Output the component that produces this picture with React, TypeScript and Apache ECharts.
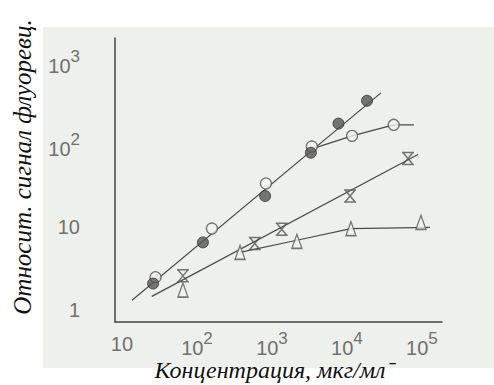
import React, { useEffect, useRef } from "react";
import * as echarts from "echarts";

// Data (log-log)
const filledX = [26, 120, 810, 3300, 7700, 18500];
const filledY = [2.1, 6.6, 24, 80, 180, 340];
const openX = [28, 158, 830, 3400, 11700, 42000];
const openY = [2.5, 9.7, 34, 95, 128, 174];
const crossX = [65, 590, 1350, 11000, 65000];
const crossY = [2.6, 6.4, 9.5, 24, 68];
const triX = [65, 375, 2150, 11300, 97000];
const triY = [1.75, 5.0, 6.8, 9.7, 11.5];

// Fitted lines
const filledLineX = [13.6, 28400];
const filledLineY = [1.32, 423];
const openLineX = [3400, 11700, 42000, 78000];
const openLineY = [89, 128, 174, 174];
const crossLineX = [25, 88500];
const crossLineY = [1.47, 76];
const triLineX = [374, 2150, 11300, 128000];
const triLineY = [5.0, 7.0, 9.7, 10.0];

const xTicks = [10, 100, 1000, 10000, 100000];
const yTicks = [1, 10, 100, 1000];
const yTitle = "Относит. сигнал флуоревц.";
const xTitle = "Концентрация, мкг/мл⁻";

const zip = (a: number[], b: number[]) => a.map((v, i) => [v, b[i]]);
const INK = "#4a4a4a";
const LABEL = "#707070";

const fmt = (v: number) => {
  const e = Math.round(Math.log10(v));
  if (Math.abs(Math.log10(v) - e) > 1e-6) return "";
  if (e === 0) return "1";
  if (e === 1) return "10";
  return "{b|10}{s|" + e + "}";
};

const rich = {
  b: { fontSize: 20, color: LABEL, fontFamily: "Liberation Sans", verticalAlign: "bottom", lineHeight: 28 },
  s: { fontSize: 17, color: LABEL, fontFamily: "Liberation Sans", verticalAlign: "top", lineHeight: 28 },
};

const crossPath = "path://M0,0L12,0M0,14L12,14M1,0L11,14M11,0L1,14";

export default function App() {
  const ref = useRef<HTMLDivElement>(null);
  useEffect(() => {
    const chart = echarts.init(ref.current!, undefined, { renderer: "svg" });
    const lineSeries = (x: number[], y: number[]) => ({
      type: "line",
      data: zip(x, y),
      showSymbol: false,
      symbol: "none",
      lineStyle: { color: INK, width: 1.2 },
      z: 2,
    });
    chart.setOption({
      animation: false,
      backgroundColor: "transparent",
      graphic: [
        {
          type: "text",
          x: 22,
          y: 167,
          rotation: Math.PI / 2,
          style: {
            text: yTitle,
            font: 'italic 25px "Liberation Serif"',
            fill: "#111",
            textAlign: "center",
            textVerticalAlign: "middle",
          },
        },
        {
          type: "text",
          x: 274,
          y: 370,
          style: {
            text: xTitle,
            font: 'italic 24px "Liberation Serif"',
            fill: "#111",
            textAlign: "center",
            textVerticalAlign: "middle",
          },
        },
      ],
      grid: { left: 115, right: 52, top: 38, bottom: 63 },
      xAxis: {
        type: "log",
        min: 8.07,
        max: 185000,
        axisLine: { lineStyle: { color: "#444", width: 1.5 } },
        axisTick: { show: false },
        splitLine: { show: false },
        axisLabel: {
          formatter: (v: number) => (xTicks.some((t) => Math.abs(t - v) / t < 1e-6) ? fmt(v) : ""),
          rich,
          margin: 4,
          showMinLabel: false,
          showMaxLabel: false,
          color: LABEL,
          fontSize: 20,
          fontFamily: "Liberation Sans",
          lineHeight: 28,
          verticalAlign: "top",
          padding: [4, 0, 0, 0],
        },
      },
      yAxis: {
        type: "log",
        min: 0.72,
        max: 1950,
        axisLine: { lineStyle: { color: "#444", width: 1.5 } },
        axisTick: { show: false },
        splitLine: { show: false },
        axisLabel: {
          formatter: (v: number) => (yTicks.some((t) => Math.abs(t - v) / t < 1e-6) ? fmt(v) : ""),
          rich,
          margin: 35,
          showMinLabel: false,
          showMaxLabel: false,
          color: LABEL,
          fontSize: 20,
          fontFamily: "Liberation Sans",
        },
      },
      series: [
        lineSeries(filledLineX, filledLineY),
        lineSeries(openLineX, openLineY),
        lineSeries(crossLineX, crossLineY),
        lineSeries(triLineX, triLineY),
        {
          type: "scatter",
          data: zip(openX, openY),
          symbol: "circle",
          symbolSize: 11,
          itemStyle: { color: "#f2f4f0", borderColor: "#555", borderWidth: 1.3 },
          z: 3,
        },
        {
          type: "scatter",
          data: zip(filledX, filledY),
          symbol: "circle",
          symbolSize: 11,
          itemStyle: { color: "#555", borderColor: "#333", borderWidth: 1 },
          z: 4,
        },
        {
          type: "scatter",
          data: zip(triX, triY),
          symbol: "triangle",
          symbolSize: [10, 14],
          itemStyle: { color: "#f2f4f0", borderColor: "#555", borderWidth: 1.4 },
          z: 3,
        },
        {
          type: "scatter",
          data: zip(crossX, crossY),
          symbol: crossPath,
          symbolSize: [12, 12],
          itemStyle: { color: "transparent", borderColor: "#555", borderWidth: 1.5 },
          z: 4,
        },
      ],
    });
    return () => chart.dispose();
  }, []);
  return (
    <div style={{ position: "fixed", left: 0, top: 0, width: 494, height: 385, background: "#ffffff" }}>
      <div style={{ position: "absolute", left: 43, top: 27, width: 451, height: 341, background: "#edf0eb" }} />
      <div ref={ref} style={{ position: "absolute", left: 0, top: 0, width: 494, height: 385 }} />
    </div>
  );
}
